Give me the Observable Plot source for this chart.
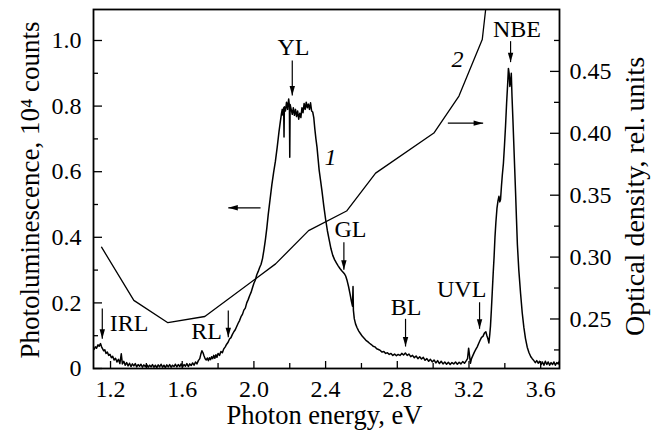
<!DOCTYPE html>
<html><head><meta charset="utf-8">
<script src="https://cdn.jsdelivr.net/npm/d3@7"></script>
<script src="https://cdn.jsdelivr.net/npm/@observablehq/plot@0.6"></script>
<style>
body{margin:0;background:#fff}
svg, svg text, svg tspan { font-family: "Liberation Serif", "DejaVu Serif", "Times New Roman", serif !important; }
</style>
</head><body><div id="chart"></div>
<script>
// Photoluminescence spectrum (curve 1): [photon energy eV, PL 10^4 counts]
const plData = [
[1.108,0.058],[1.115,0.066],[1.122,0.062],[1.130,0.072],[1.137,0.068],[1.144,0.076],[1.150,0.066],[1.156,0.060],[1.162,0.054],[1.168,0.057],[1.175,0.046],[1.182,0.050],[1.190,0.040],[1.197,0.043],[1.205,0.033],[1.212,0.037],[1.220,0.026],[1.228,0.031],[1.236,0.020],[1.244,0.028],[1.252,0.015],[1.260,0.045],[1.266,0.014],[1.274,0.022],[1.282,0.010],[1.290,0.018],[1.298,0.008],[1.306,0.016],[1.314,0.006],[1.322,0.014],[1.330,0.008],[1.338,0.015],[1.346,0.005],[1.354,0.012],[1.362,0.007],[1.370,0.013],[1.378,0.004],[1.386,0.011],[1.394,0.006],[1.402,0.012],[1.410,0.004],[1.418,0.010],[1.426,0.005],[1.434,0.012],[1.442,0.004],[1.450,0.010],[1.458,0.003],[1.466,0.011],[1.474,0.005],[1.482,0.013],[1.490,0.004],[1.498,0.010],[1.506,0.003],[1.514,0.011],[1.522,0.005],[1.530,0.012],[1.538,0.004],[1.546,0.010],[1.554,0.006],[1.562,0.013],[1.570,0.005],[1.578,0.012],[1.586,0.006],[1.594,0.014],[1.602,0.005],[1.610,0.012],[1.618,0.007],[1.626,0.015],[1.634,0.006],[1.642,0.014],[1.650,0.009],[1.658,0.017],[1.666,0.010],[1.674,0.020],[1.682,0.014],[1.690,0.024],[1.698,0.030],[1.704,0.044],[1.710,0.054],[1.716,0.048],[1.722,0.038],[1.728,0.030],[1.734,0.026],[1.740,0.032],[1.746,0.024],[1.752,0.033],[1.758,0.027],[1.764,0.036],[1.770,0.030],[1.776,0.040],[1.782,0.031],[1.788,0.042],[1.794,0.034],[1.800,0.046],[1.808,0.040],[1.816,0.052],[1.824,0.048],[1.832,0.060],[1.840,0.066],[1.848,0.074],[1.856,0.080],[1.864,0.090],[1.872,0.094],[1.880,0.104],[1.888,0.112],[1.896,0.118],[1.904,0.128],[1.912,0.138],[1.920,0.146],[1.928,0.158],[1.936,0.165],[1.944,0.178],[1.952,0.184],[1.960,0.200],[1.968,0.210],[1.976,0.222],[1.984,0.232],[1.992,0.246],[2.000,0.260],[2.008,0.270],[2.016,0.286],[2.024,0.296],[2.032,0.308],[2.040,0.318],[2.048,0.335],[2.056,0.362],[2.064,0.392],[2.072,0.428],[2.080,0.470],[2.090,0.515],[2.100,0.560],[2.110,0.598],[2.120,0.632],[2.130,0.675],[2.140,0.722],[2.148,0.755],[2.154,0.778],[2.158,0.790],[2.162,0.772],[2.166,0.795],[2.168,0.706],[2.170,0.798],[2.176,0.785],[2.182,0.812],[2.188,0.790],[2.194,0.822],[2.198,0.800],[2.200,0.644],[2.202,0.805],[2.208,0.790],[2.214,0.775],[2.220,0.795],[2.226,0.772],[2.232,0.790],[2.238,0.768],[2.244,0.785],[2.250,0.760],[2.256,0.778],[2.262,0.765],[2.268,0.795],[2.274,0.780],[2.280,0.808],[2.286,0.790],[2.292,0.812],[2.298,0.795],[2.304,0.806],[2.310,0.790],[2.316,0.810],[2.322,0.785],[2.328,0.782],[2.334,0.765],[2.340,0.730],[2.346,0.700],[2.352,0.675],[2.358,0.640],[2.364,0.605],[2.372,0.573],[2.380,0.540],[2.390,0.495],[2.400,0.455],[2.410,0.420],[2.420,0.392],[2.430,0.365],[2.440,0.345],[2.450,0.332],[2.460,0.322],[2.470,0.313],[2.480,0.305],[2.490,0.298],[2.500,0.292],[2.506,0.288],[2.512,0.282],[2.520,0.268],[2.528,0.250],[2.536,0.228],[2.544,0.205],[2.550,0.190],[2.553,0.250],[2.555,0.178],[2.560,0.152],[2.567,0.136],[2.575,0.125],[2.585,0.114],[2.595,0.106],[2.605,0.098],[2.615,0.092],[2.625,0.086],[2.635,0.082],[2.645,0.077],[2.655,0.073],[2.665,0.068],[2.675,0.066],[2.685,0.060],[2.695,0.058],[2.705,0.055],[2.715,0.050],[2.725,0.052],[2.735,0.046],[2.745,0.048],[2.755,0.043],[2.765,0.046],[2.775,0.040],[2.785,0.044],[2.795,0.039],[2.805,0.043],[2.815,0.040],[2.825,0.046],[2.835,0.041],[2.845,0.047],[2.855,0.040],[2.865,0.044],[2.875,0.036],[2.885,0.040],[2.895,0.033],[2.905,0.038],[2.915,0.030],[2.925,0.036],[2.935,0.029],[2.945,0.034],[2.955,0.025],[2.965,0.030],[2.975,0.022],[2.985,0.028],[2.995,0.020],[3.005,0.026],[3.015,0.017],[3.025,0.024],[3.035,0.015],[3.045,0.022],[3.055,0.014],[3.065,0.020],[3.075,0.013],[3.085,0.019],[3.095,0.012],[3.105,0.018],[3.115,0.014],[3.125,0.020],[3.135,0.013],[3.145,0.019],[3.155,0.014],[3.165,0.021],[3.175,0.016],[3.185,0.024],[3.192,0.030],[3.198,0.062],[3.203,0.040],[3.208,0.016],[3.214,0.030],[3.222,0.040],[3.230,0.050],[3.238,0.058],[3.246,0.066],[3.254,0.076],[3.262,0.086],[3.270,0.095],[3.278,0.098],[3.286,0.108],[3.294,0.112],[3.300,0.100],[3.306,0.090],[3.311,0.078],[3.316,0.104],[3.320,0.130],[3.325,0.180],[3.330,0.235],[3.335,0.290],[3.340,0.340],[3.345,0.400],[3.350,0.445],[3.356,0.488],[3.362,0.512],[3.367,0.525],[3.372,0.508],[3.376,0.515],[3.381,0.555],[3.386,0.590],[3.392,0.625],[3.398,0.680],[3.404,0.740],[3.410,0.810],[3.416,0.870],[3.420,0.915],[3.424,0.900],[3.428,0.860],[3.432,0.875],[3.436,0.900],[3.440,0.830],[3.445,0.760],[3.450,0.685],[3.455,0.610],[3.460,0.535],[3.465,0.455],[3.470,0.378],[3.478,0.300],[3.488,0.228],[3.497,0.170],[3.506,0.126],[3.515,0.092],[3.525,0.065],[3.535,0.048],[3.545,0.036],[3.553,0.030],[3.562,0.024],[3.570,0.018],[3.578,0.024],[3.586,0.016],[3.594,0.022],[3.602,0.012],[3.610,0.020],[3.618,0.010],[3.626,0.022],[3.634,0.012],[3.642,0.020],[3.650,0.010],[3.658,0.018],[3.666,0.012],[3.674,0.020],[3.682,0.010],[3.690,0.018],[3.698,0.014],[3.704,0.022]
];
// Optical density (curve 2): [photon energy eV, optical density rel. units]
const odData = [
[1.150,0.308],[1.330,0.265],[1.520,0.247],[1.726,0.252],[2.121,0.2945],[2.305,0.3214],[2.517,0.3372],[2.679,0.3678],[3.004,0.4002],[3.144,0.4301],[3.274,0.4757],[3.293,0.500]
];
const xMajor = [1.2,1.6,2.0,2.4,2.8,3.2,3.6];
const xMinor = [1.4,1.8,2.2,2.6,3.0,3.4];
const yMajor = [0,0.2,0.4,0.6,0.8,1.0];
const yMinor = [0.1,0.3,0.5,0.7,0.9];
const odMajor = [0.25,0.30,0.35,0.40,0.45];
const odMinor = [0.225,0.275,0.325,0.375,0.425,0.475];
const odDomain = [0.21, 0.50];
const plDomain = [0, 1.0945];
const xDomain = [1.105, 3.705];
// peak labels (data coordinates: eV, PL units)
const peakLabels = [
  {label:"YL", x:2.221, y:0.978},
  {label:"NBE", x:3.468, y:1.034},
  {label:"IRL", x:1.303, y:0.137},
  {label:"RL", x:1.736, y:0.114},
  {label:"GL", x:2.539, y:0.424},
  {label:"BL", x:2.849, y:0.188},
  {label:"UVL", x:3.159, y:0.241}
];
const peakArrows = [
  {x:2.214, y1:0.939, y2:0.832},
  {x:3.432, y1:0.998, y2:0.934},
  {x:1.154, y1:0.183, y2:0.0905},
  {x:1.857, y1:0.177, y2:0.0954},
  {x:2.502, y1:0.385, y2:0.301},
  {x:2.846, y1:0.1515, y2:0.067},
  {x:3.259, y1:0.202, y2:0.121}
];
const sideArrows = [
  {x1:2.037, x2:1.857, y:0.49},
  {x1:3.082, x2:3.279, y:0.748}
];
const curveNumbers = [
  {label:"1", x:2.428, y:0.645},
  {label:"2", x:3.136, y:0.944}
];
const axisTitles = {
  x: "Photon energy, eV",
  yLeft: "Photoluminescence, 10\u2074 counts",
  yRight: "Optical density, rel.\u2009units"
};

const W = 656, H = 432, mL = 93, mR = 97, mT = 9, mB = 64;
const frameW = W - mL - mR, frameH = H - mT - mB;
const odToY = v => (v - odDomain[0]) / (odDomain[1] - odDomain[0]) * plDomain[1];
const yToOd = y => y / plDomain[1] * (odDomain[1] - odDomain[0]) + odDomain[0];

const headSymbol = {draw(ctx){ ctx.moveTo(0,0); ctx.lineTo(-2.7,9.5); ctx.lineTo(2.7,9.5); ctx.closePath(); }};
const heads = [
  ...peakArrows.map(a => ({x:a.x, y:a.y2, r:180})),
  ...sideArrows.map(a => ({x:a.x2, y:a.y, r: a.x2 < a.x1 ? -90 : 90}))
];
const font = "Liberation Serif";

const chart = Plot.plot({
  width: W, height: H,
  marginLeft: mL, marginRight: mR, marginTop: mT, marginBottom: mB,
  style: {fontFamily: font, fontSize: "24px", color: "black", background: "white"},
  x: {domain: xDomain},
  y: {domain: plDomain},
  marks: [
    Plot.line(odData, {x: d => d[0], y: d => odToY(d[1]), stroke: "black", strokeWidth: 1.3, clip: true}),
    Plot.line(plData, {x: d => d[0], y: d => d[1], stroke: "black", strokeWidth: 1.5, clip: true}),
    Plot.tickX(xMajor, {x: d => d, insetTop: frameH - 7, strokeWidth: 1.3}),
    Plot.tickX(xMinor, {x: d => d, insetTop: frameH - 5, strokeWidth: 1.3}),
    Plot.tickY(yMajor, {y: d => d, insetRight: frameW - 9, strokeWidth: 1.3}),
    Plot.tickY(yMinor, {y: d => d, insetRight: frameW - 5, strokeWidth: 1.3}),
    Plot.tickY(odMajor.map(odToY), {y: d => d, insetLeft: frameW - 9, strokeWidth: 1.3}),
    Plot.tickY(odMinor.map(odToY), {y: d => d, insetLeft: frameW - 5, strokeWidth: 1.3}),
    Plot.axisX({ticks: xMajor, tickSize: 0, tickPadding: 11, tickFormat: d3.format(".1f"), label: null, fontSize: 24, fontFamily: font}),
    Plot.axisY({ticks: yMajor, tickSize: 0, tickPadding: 12, tickFormat: d => d === 0 ? "0" : d3.format(".1f")(d), label: null, fontSize: 24, fontFamily: font}),
    Plot.axisY({anchor: "right", ticks: odMajor.map(odToY), tickSize: 0, tickPadding: 10, tickFormat: d => yToOd(d).toFixed(2), label: null, fontSize: 24, fontFamily: font}),
    Plot.frame({stroke: "black", strokeWidth: 1.8}),
    Plot.link(peakArrows, {x1: "x", x2: "x", y1: "y1", y2: "y2", stroke: "black", strokeWidth: 1.2}),
    Plot.link(sideArrows, {x1: "x1", x2: "x2", y1: "y", y2: "y", stroke: "black", strokeWidth: 1.2}),
    Plot.dot(heads, {x: "x", y: "y", rotate: "r", symbol: headSymbol, fill: "black", stroke: "none"}),
    Plot.text(peakLabels, {x: "x", y: "y", text: "label", fontSize: 24, fontFamily: font, fill: "black"}),
    Plot.text(curveNumbers, {x: "x", y: "y", text: "label", fontSize: 24, fontFamily: font, fontStyle: "italic", fill: "black"}),
    Plot.text([axisTitles.x], {text: d => d, frameAnchor: "bottom", textAnchor: "middle", lineAnchor: "middle", dx: -2, dy: 47, fontSize: 26.5, fontFamily: font, fill: "black"}),
    Plot.text([axisTitles.yLeft], {text: d => d, frameAnchor: "left", textAnchor: "middle", lineAnchor: "middle", dx: -63, dy: 1, rotate: -90, fontSize: 27, fontFamily: font, fill: "black"}),
    Plot.text([axisTitles.yRight], {text: d => d, frameAnchor: "right", textAnchor: "middle", lineAnchor: "middle", dx: 76, dy: 7.5, rotate: -90, fontSize: 28, fontFamily: font, fill: "black"})
  ]
});
document.getElementById("chart").appendChild(chart);
</script>
</body></html>
